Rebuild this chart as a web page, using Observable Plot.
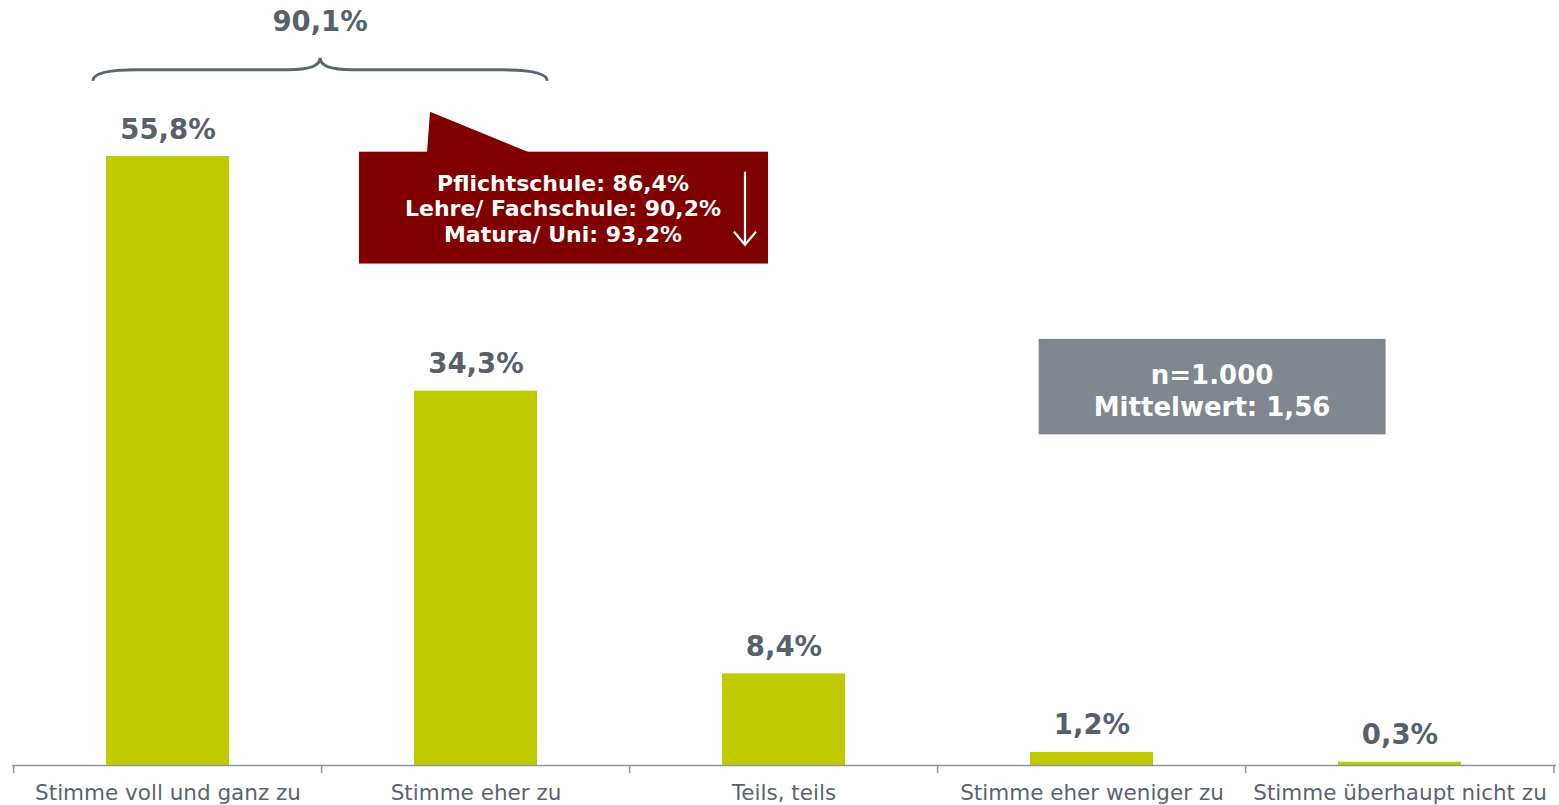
<!DOCTYPE html>
<html>
<head>
<meta charset="utf-8">
<script src="https://cdn.jsdelivr.net/npm/d3@7"></script>
<script src="https://cdn.jsdelivr.net/npm/@observablehq/plot@0.6"></script>
<style>
  html, body { margin: 0; padding: 0; background: #ffffff; overflow: hidden; }
  #chart svg { display: block; }
</style>
</head>
<body>
<div id="chart"></div>
<script>
// ---- Data ----
const categories = [
  "Stimme voll und ganz zu",
  "Stimme eher zu",
  "Teils, teils",
  "Stimme eher weniger zu",
  "Stimme überhaupt nicht zu"
];
const values = [55.8, 34.3, 8.4, 1.2, 0.3];
const totalTopTwo = "90,1%";
const calloutLines = [
  "Pflichtschule: 86,4%",
  "Lehre/ Fachschule: 90,2%",
  "Matura/ Uni: 93,2%"
];
const infoLines = ["n=1.000", "Mittelwert: 1,56"];

const data = categories.map((c, i) => ({category: c, value: values[i]}));
const fmt = v => v.toFixed(1).replace(".", ",") + "%";

const BAR = "#bfcb00";
const LABEL = "#57616c";
const AXIS = "#8c949c";
const RED = "#800000";
const GRAY = "#80878f";
const FONT = "DejaVu Sans, Verdana, sans-serif";

const W = 1559, H = 805;
const step = (W - 12 - 3) / categories.length;

// Annotation layer drawn from the chart's scales
function annotations(index, scales) {
  const x = scales.x, y = scales.y;
  const st = x(categories[1]) - x(categories[0]);
  const bw = st * 0.4;
  const g = d3.create("svg:g").attr("font-family", FONT);

  // Brace over first two bars
  const x1 = x(categories[0]) - 13;
  const x2 = x(categories[1]) + bw + 10;
  const xm = (x1 + x2) / 2;
  const yb = y(63.7), yEnd = y(62.7), yPeak = y(64.8);
  g.append("path")
    .attr("d", `M${x1},${yEnd} Q${x1},${yb} ${x1 + 45},${yb} L${xm - 32},${yb} Q${xm},${yb} ${xm},${yPeak} Q${xm},${yb} ${xm + 32},${yb} L${x2 - 45},${yb} Q${x2},${yb} ${x2},${yEnd}`)
    .attr("fill", "none").attr("stroke", "#5a6570").attr("stroke-width", 3);
  g.append("text").attr("x", xm).attr("y", y(67.3))
    .attr("text-anchor", "middle").attr("font-size", 27.5).attr("font-weight", "bold")
    .attr("fill", LABEL).text(totalTopTwo);

  // Dark red callout
  const cL = x(categories[1]) - 55, cR = cL + 409;
  const cT = y(56.2), cB = y(45.95);
  g.append("rect").attr("x", cL).attr("y", cT).attr("width", cR - cL).attr("height", cB - cT).attr("fill", RED);
  g.append("path")
    .attr("d", `M${cL + 68},${cT + 1} L${cL + 71},${y(59.85)} L${cL + 171},${cT + 1} Z`)
    .attr("fill", RED);
  const cx = cL + 204;
  calloutLines.forEach((t, i) => {
    g.append("text").attr("x", cx).attr("y", cT + 39 + i * 25.5)
      .attr("text-anchor", "middle").attr("font-size", 22).attr("font-weight", "bold")
      .attr("fill", "#ffffff").text(t);
  });
  const ax = cR - 23;
  g.append("line").attr("x1", ax).attr("x2", ax).attr("y1", cT + 20).attr("y2", cT + 93)
    .attr("stroke", "#ffffff").attr("stroke-width", 2.2);
  g.append("path").attr("d", `M${ax - 11},${cT + 80} L${ax},${cT + 93} L${ax + 11},${cT + 80}`)
    .attr("fill", "none").attr("stroke", "#ffffff").attr("stroke-width", 2.2);

  // Gray info box
  const gL = x(categories[3]) + bw / 2 - 53, gR = gL + 347;
  const gT = y(39.05), gB = y(30.3);
  g.append("rect").attr("x", gL).attr("y", gT).attr("width", gR - gL).attr("height", gB - gT).attr("fill", GRAY);
  infoLines.forEach((t, i) => {
    g.append("text").attr("x", (gL + gR) / 2).attr("y", gT + 45 + i * 32)
      .attr("text-anchor", "middle").attr("font-size", 26).attr("font-weight", "bold")
      .attr("fill", "#ffffff").text(t);
  });
  return g.node();
}

const chart = Plot.plot({
  width: W,
  height: H,
  marginLeft: 12,
  marginRight: 3,
  marginTop: 0,
  marginBottom: 40,
  style: {fontFamily: FONT, background: "#ffffff"},
  x: {domain: categories, paddingInner: 0.6, paddingOuter: 0.3, axis: null, label: null},
  y: {domain: [0, 70.1], axis: null},
  marks: [
    Plot.barY(data, {x: "category", y: "value", fill: BAR}),
    Plot.ruleY([0], {stroke: AXIS, strokeWidth: 1.5}),
    Plot.ruleX(categories, {x: d => d, dx: -step / 2, y1: 0, y2: -0.75, stroke: AXIS, strokeWidth: 1.5}),
    Plot.ruleX([categories[categories.length - 1]], {x: d => d, dx: step / 2 - 0.5, y1: 0, y2: -0.75, stroke: AXIS, strokeWidth: 1.5}),
    Plot.axisX({tickSize: 0, tickPadding: 19, fontSize: 21.5, fill: "#5a6470", fontFamily: FONT, label: null}),
    Plot.text(data, {x: "category", y: "value", text: d => fmt(d.value), lineAnchor: "bottom", dy: -18,
      fontSize: 27.5, fontWeight: "bold", fill: LABEL}),
    annotations
  ]
});
document.getElementById("chart").appendChild(chart);
</script>
</body>
</html>
